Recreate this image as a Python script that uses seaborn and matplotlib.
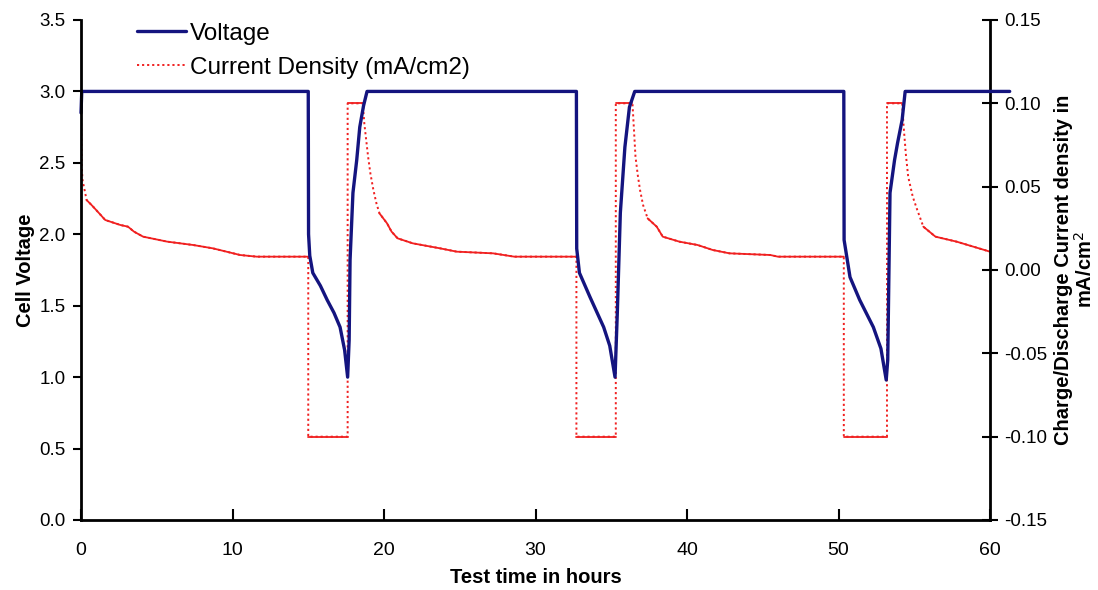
import numpy as np
import pandas as pd
import matplotlib.pyplot as plt
from matplotlib.lines import Line2D
import seaborn as sns

# cell voltage (V) against test time (h)
volt_time = [0.0, 0.05, 15.0, 15.02, 15.1, 15.3, 15.8, 16.25, 16.7, 17.1, 17.4, 17.6,
             17.7, 17.76, 17.95, 18.2, 18.4, 18.65, 18.88,
             32.7, 32.72, 32.9, 33.6, 34.5, 34.9, 35.25,
             35.4, 35.6, 35.9, 36.2, 36.55,
             50.35, 50.37, 50.76, 51.4, 52.3, 52.8, 53.15,
             53.25, 53.4, 53.7, 53.9, 54.2, 54.4, 61.3]
volt = [2.85, 3.0, 3.0, 2.0, 1.85, 1.73, 1.64, 1.54, 1.45, 1.35, 1.19, 1.0,
        1.26, 1.82, 2.29, 2.52, 2.75, 2.9, 3.0,
        3.0, 1.9, 1.73, 1.56, 1.35, 1.22, 1.0,
        1.45, 2.15, 2.61, 2.89, 3.0,
        3.0, 1.96, 1.70, 1.54, 1.35, 1.2, 0.98,
        1.12, 2.29, 2.52, 2.64, 2.8, 3.0, 3.0]

# charge/discharge current density (mA/cm2) against test time (h)
cur_time = [0.0, 0.05, 0.1, 0.37, 0.8, 1.6, 2.6, 3.1, 3.5, 4.1, 5.7, 7.4, 8.7, 9.6, 10.5, 11.6, 15.0,
            15.0, 17.6, 17.6, 18.6,
            18.7, 18.95, 19.1, 19.3, 19.5, 19.7, 20.2, 20.5, 20.9, 21.9, 23.7, 24.8, 27.2, 28.6, 32.7,
            32.7, 35.3, 35.3, 36.4,
            36.6, 36.75, 36.9, 37.1, 37.4, 38.0, 38.4, 39.5, 40.7, 41.7, 42.8, 45.5, 46.0, 50.35,
            50.35, 53.2, 53.2, 54.2,
            54.3, 54.45, 54.6, 54.9, 55.2, 55.6, 56.4, 57.8, 58.9, 60.0]
cur = [0.10, 0.062, 0.054, 0.042, 0.038, 0.030, 0.027, 0.026, 0.023, 0.020, 0.017, 0.015, 0.013, 0.011, 0.009, 0.008, 0.008,
       -0.10, -0.10, 0.10, 0.10,
       0.088, 0.068, 0.058, 0.048, 0.040, 0.034, 0.028, 0.023, 0.019, 0.016, 0.013, 0.011, 0.010, 0.008, 0.008,
       -0.10, -0.10, 0.10, 0.10,
       0.068, 0.057, 0.048, 0.039, 0.031, 0.026, 0.020, 0.017, 0.015, 0.012, 0.010, 0.009, 0.008, 0.008,
       -0.10, -0.10, 0.10, 0.10,
       0.086, 0.069, 0.056, 0.044, 0.036, 0.026, 0.020, 0.017, 0.014, 0.011]

x_ticks = [0, 10, 20, 30, 40, 50, 60]
v_ticks = [0.0, 0.5, 1.0, 1.5, 2.0, 2.5, 3.0, 3.5]
c_ticks = [-0.15, -0.10, -0.05, 0.0, 0.05, 0.10, 0.15]

navy = "#14147f"
red = "#f02020"

sns.set_style("white")
plt.rcParams["font.family"] = ["Liberation Sans", "DejaVu Sans"]
plt.rcParams["text.color"] = "black"
plt.rcParams["axes.labelcolor"] = "black"

df_v = pd.DataFrame({"t": volt_time, "v": volt})
df_c = pd.DataFrame({"t": cur_time, "c": cur})
# steep / vertical pieces of the current trace look dotted, the flat parts solid
slope = (df_c["c"].diff().abs() / df_c["t"].diff()).fillna(0)
df_c["piece"] = (slope > 0.02).cumsum()

fig = plt.figure(figsize=(10.98, 5.90), dpi=100)
ax = fig.add_axes([81 / 1098, 70 / 590, 909 / 1098, 500 / 590])
ax2 = ax.twinx()

sns.lineplot(data=df_c, x="t", y="c", ax=ax2, color=red, lw=1.4, linestyle=(0, (1.1, 1.5)),
             estimator=None, sort=False, legend=False)
sns.lineplot(data=df_c, x="t", y="c", units="piece", ax=ax2, color=red, lw=1.3,
             estimator=None, sort=False, legend=False)
sns.lineplot(data=df_v, x="t", y="v", ax=ax, color=navy, lw=2.4,
             estimator=None, sort=False, legend=False)
ax.set_zorder(ax2.get_zorder() + 1)
ax.patch.set_visible(False)
ax.get_lines()[0].set_clip_on(False)

ax.set_xlim(0, 60)
ax.set_ylim(0, 3.5)
ax2.set_ylim(-0.15, 0.15)
ax.set_xticks(x_ticks)
ax.set_yticks(v_ticks)
ax2.set_yticks(c_ticks)
ax.set_yticklabels([f"{v:.1f}" for v in v_ticks], fontsize=13.5)
ax2.set_yticklabels([f"{c:.2f}" for c in c_ticks], fontsize=13.5)
ax.set_xticklabels([str(x) for x in x_ticks], fontsize=14)

for a in (ax, ax2):
    for s in a.spines.values():
        s.set_visible(False)
for s in ("left", "bottom"):
    ax.spines[s].set_visible(True)
    ax.spines[s].set_linewidth(2)
    ax.spines[s].set_color("black")
ax2.spines["right"].set_visible(True)
ax2.spines["right"].set_linewidth(2)
ax2.spines["right"].set_color("black")

ax.tick_params(axis="y", direction="out", length=6, width=1.5, pad=5, left=True, colors="black")
ax.tick_params(axis="x", direction="in", length=8, width=1.5, pad=16, bottom=True, colors="black")
ax2.tick_params(axis="y", direction="inout", length=12, width=1.5, pad=4, right=True, colors="black")

ax.set_xlabel("Test time in hours", fontsize=14.5, fontweight="bold", labelpad=6)
ax.set_ylabel("Cell Voltage", fontsize=14.5, fontweight="bold", labelpad=3)
ax2.set_ylabel("Charge/Discharge Current density in\nmA/cm$^2$", fontsize=14.5,
               fontweight="bold", labelpad=5, linespacing=1.05)

handles = [Line2D([], [], color=navy, lw=2.4),
           Line2D([], [], color=red, lw=1.4, linestyle=(0, (1.1, 1.5)))]
ax.legend(handles, ["Voltage", "Current Density (mA/cm2)"], loc="upper left",
          bbox_to_anchor=(0.0616, 0.995), frameon=False, fontsize=17.5,
          handlelength=2.0, handletextpad=0.17, labelspacing=0.5,
          borderpad=0, borderaxespad=0)

fig.savefig("out.png", dpi=100)
